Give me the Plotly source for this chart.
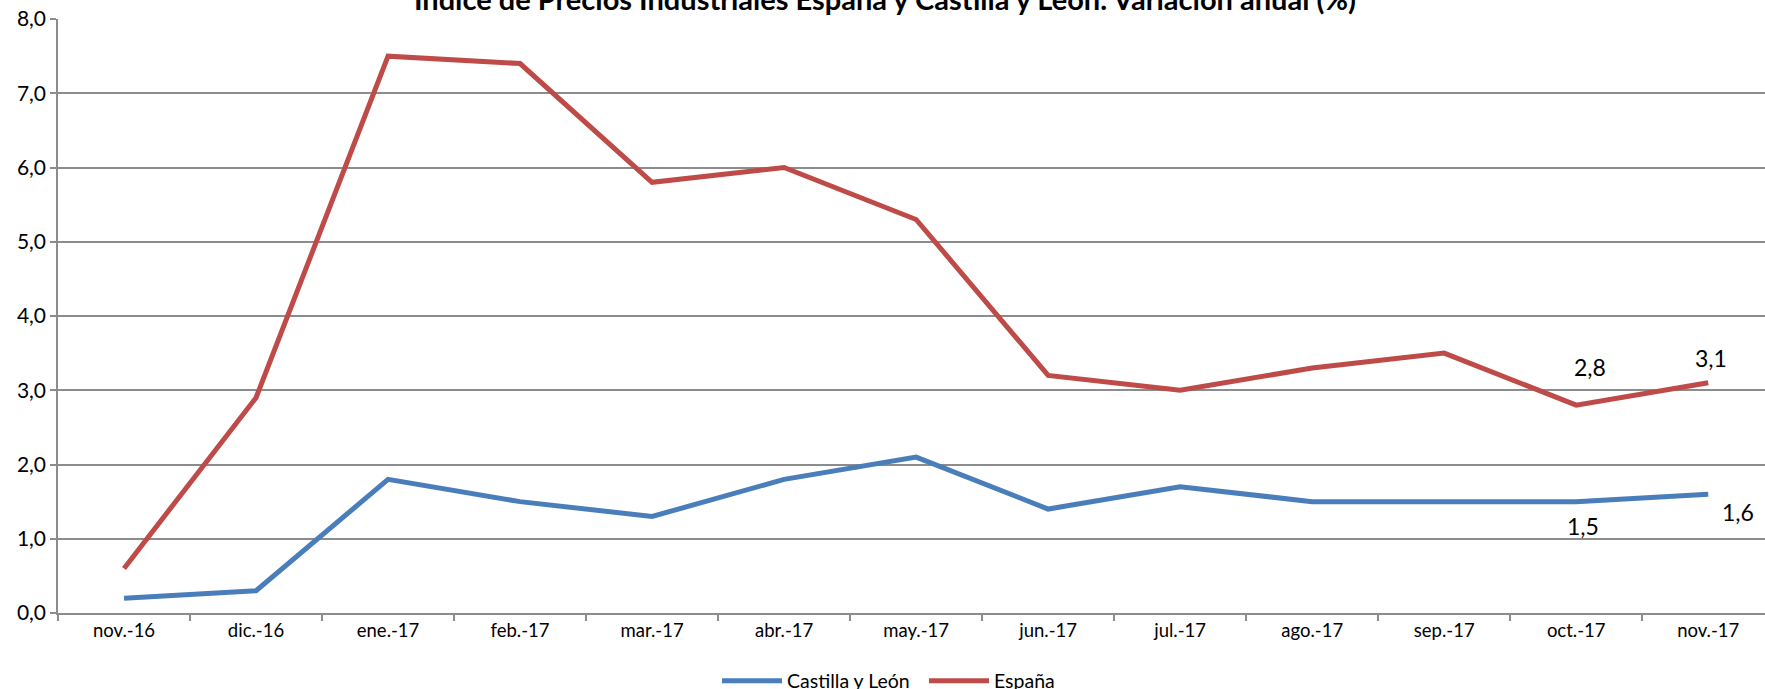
import plotly.graph_objects as go

meses = ["nov.-16", "dic.-16", "ene.-17", "feb.-17", "mar.-17", "abr.-17", "may.-17",
         "jun.-17", "jul.-17", "ago.-17", "sep.-17", "oct.-17", "nov.-17"]
castilla_leon = [0.2, 0.3, 1.8, 1.5, 1.3, 1.8, 2.1, 1.4, 1.7, 1.5, 1.5, 1.5, 1.6]
espana = [0.6, 2.9, 7.5, 7.4, 5.8, 6.0, 5.3, 3.2, 3.0, 3.3, 3.5, 2.8, 3.1]
y_ticks = [0, 1, 2, 3, 4, 5, 6, 7, 8]

FONT = "Lato"
BLUE = "#4A7EBB"
RED = "#BE4B48"
GRID = "#8C8C8C"

fig = go.Figure()
fig.add_trace(go.Scatter(x=meses, y=castilla_leon, mode="lines", name="Castilla y León",
                         line=dict(color=BLUE, width=5)))
fig.add_trace(go.Scatter(x=meses, y=espana, mode="lines", name="España",
                         line=dict(color=RED, width=5)))

# data labels (last two points of each series)
label_specs = [
    (espana, 11, 14, 38),
    (espana, 12, 3, 25),
    (castilla_leon, 11, 7, -24),
    (castilla_leon, 12, 30, -18),
]
for serie, i, dx, dy in label_specs:
    fig.add_annotation(x=meses[i], y=serie[i], text=f"{serie[i]:.1f}".replace(".", ","),
                       showarrow=False, xshift=dx, yshift=dy,
                       font=dict(family=FONT, size=23, color="#000000"))

fig.update_layout(
    width=1765, height=689,
    paper_bgcolor="white", plot_bgcolor="white",
    separators=",.",
    margin=dict(l=58, r=0, t=19, b=76),
    font=dict(family=FONT, color="#000000"),
    title=dict(text="<b>Índice de Precios Industriales España y Castilla y León. Variación anual (%)</b>",
               x=885 / 1765, xanchor="center", y=1.0, yanchor="middle", yref="container",
               font=dict(family=FONT, size=29, color="#000000")),
    showlegend=True,
    legend=dict(orientation="h", x=717 / 1765, xanchor="left", xref="container",
                y=1 - 681 / 689, yanchor="middle", yref="container",
                itemwidth=60, entrywidth=132, entrywidthmode="pixels",
                font=dict(family=FONT, size=19.5), bgcolor="rgba(0,0,0,0)"),
    xaxis=dict(type="category", range=[-0.5, 12.43], showgrid=False,
               showline=True, linecolor=GRID, linewidth=1.5,
               ticks="outside", ticklen=6, tickcolor=GRID, tickwidth=1.5,
               tickson="boundaries", tickfont=dict(family=FONT, size=18.5)),
    yaxis=dict(range=[0, 8], tickvals=y_ticks, tickformat=".1f",
               showgrid=True, gridcolor=GRID, gridwidth=1.5,
               showline=True, linecolor=GRID, linewidth=1.5,
               ticks="outside", ticklen=6, tickcolor=GRID, tickwidth=1.5,
               zeroline=False, tickfont=dict(family=FONT, size=21)),
)

fig.write_html("out.html", config={"displayModeBar": False},
               post_script="document.body.style.margin='0';document.body.style.overflow='hidden';")
